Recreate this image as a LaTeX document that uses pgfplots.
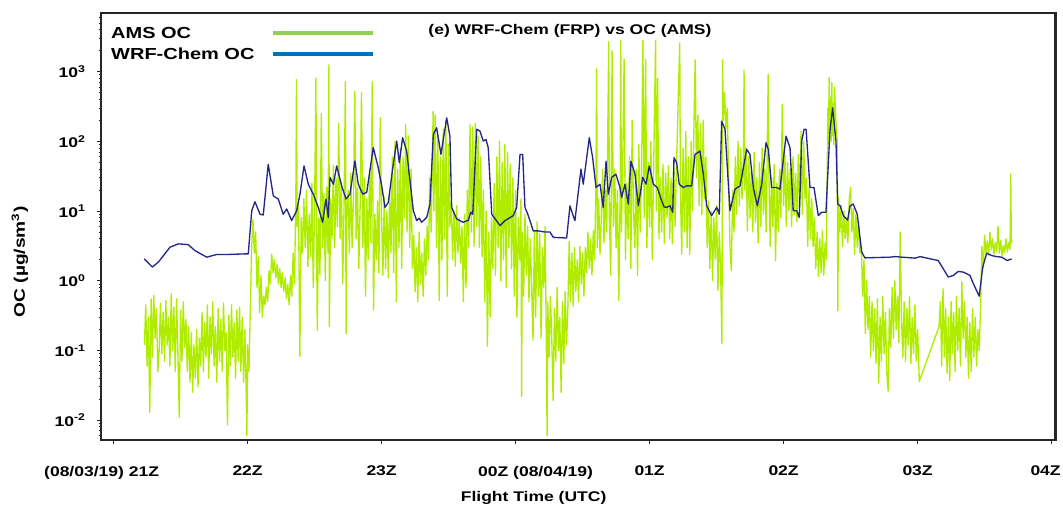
\documentclass[border=0pt]{standalone}
\usepackage{fontspec}
\setmainfont{Liberation Sans}[FakeStretch=1.25]
\usepackage{pgfplots}
\pgfplotsset{compat=1.18}
\definecolor{amsline}{RGB}{176,236,0}
\definecolor{wrfline}{RGB}{38,38,135}
\definecolor{leggreen}{RGB}{146,208,80}
\definecolor{legblue}{RGB}{0,112,192}
\begin{document}
\begin{tikzpicture}
\begin{axis}[
  at={(0pt,0pt)}, anchor=south west,
  scale only axis, width=716.25pt, height=320.25pt,
  xmin=-0.094, xmax=7.033,
  ymode=log, log basis y=10, ymin=0.00518, ymax=6960,
  axis lines=box, clip=false,
  xtick={0,1,2,3,4,5,6,7},
  xticklabels={{(08/03/19) 21Z\hspace*{18pt}},22Z,23Z,{\hspace*{30pt}00Z (08/04/19)},01Z,02Z,03Z,{\hspace*{-9pt}04Z}},
  ytick={0.01,0.1,1,10,100,1000},
  yticklabels={10\textsuperscript{-2},10\textsuperscript{-1},10\textsuperscript{0},10\textsuperscript{1},10\textsuperscript{2},10\textsuperscript{3}},
  minor ytick={0.006,0.007,0.008,0.009,0.02,0.03,0.04,0.05,0.06,0.07,0.08,0.09,0.2,0.3,0.4,0.5,0.6,0.7,0.8,0.9,2,3,4,5,6,7,8,9,20,30,40,50,60,70,80,90,200,300,400,500,600,700,800,900,2000,3000,4000,5000,6000},
  tick align=outside, xtick pos=left, ytick pos=left,
  major tick length=3pt, minor tick length=1.8pt,
  axis line style={black!85, line width=1.1pt},
  every tick/.style={black!85, line width=0.6pt},
  ticklabel style={font=\bfseries\fontsize{10.5}{12}\selectfont},
  xticklabel style={inner xsep=0pt},
  xticklabel shift=13pt,
  yticklabel shift=5pt,
  xlabel={\bfseries Flight Time (UTC)},
  xlabel style={font=\fontsize{10.5}{12}\selectfont, at={(rel axis cs:0.453,-0.136)}, anchor=center},
  ylabel={\bfseries OC (µg/sm\textsuperscript{3})},
  ylabel style={font=\fontsize{11.5}{13}\selectfont, at={(rel axis cs:-0.085,0.417)}, anchor=center},
  legend plot pos=right,
  legend image code/.code={\draw[#1] (0pt,0pt) -- (75pt,0pt);},
  legend style={at={(rel axis cs:0.009,0.973)}, anchor=north west, draw=none, fill=none,
    font=\bfseries\fontsize{12}{14}\selectfont, row sep=2.75pt, inner sep=0pt,
    nodes={inner sep=1pt, text height=9pt, text depth=2pt},
    cells={anchor=west},
    /tikz/every odd column/.append style={column sep=11pt}},
]
\addlegendimage{leggreen, line width=3pt}
\addlegendentry{AMS OC}
\addlegendimage{legblue, line width=3pt}
\addlegendentry{WRF-Chem OC}

\addplot[amsline, line width=1pt, line join=round, forget plot] coordinates {
(0.23,0.12) (0.24,0.45) (0.25,0.06) (0.26,0.30) (0.27,0.013) (0.28,0.55) (0.29,0.08) (0.30,0.62) (0.31,0.15) (0.32,0.40) (0.33,0.05) (0.34,0.10) (0.35,0.48) (0.36,0.09) (0.37,0.35) (0.38,0.07) (0.39,0.52) (0.40,0.12) (0.41,0.30) (0.42,0.06) (0.43,0.65) (0.44,0.10) (0.45,0.42) (0.46,0.05) (0.47,0.55) (0.48,0.09) (0.49,0.011) (0.50,0.38) (0.51,0.07) (0.52,0.50) (0.53,0.11) (0.54,0.28) (0.55,0.05) (0.56,0.22) (0.57,0.035) (0.58,0.18) (0.59,0.025) (0.60,0.12) (0.61,0.04) (0.62,0.20) (0.63,0.03) (0.64,0.15) (0.65,0.06) (0.66,0.35) (0.67,0.05) (0.68,0.25) (0.69,0.08) (0.70,0.45) (0.71,0.04) (0.72,0.30) (0.73,0.09) (0.74,0.50) (0.75,0.06) (0.76,0.22) (0.77,0.035) (0.78,0.40) (0.79,0.07) (0.80,0.28) (0.81,0.05) (0.82,0.48) (0.83,0.10) (0.84,0.18) (0.85,0.0085) (0.86,0.32) (0.87,0.06) (0.88,0.45) (0.89,0.08) (0.90,0.25) (0.91,0.04) (0.92,0.38) (0.93,0.07) (0.94,0.42) (0.95,0.05) (0.96,0.30) (0.97,0.035) (0.98,0.20) (0.99,0.022) (0.995,0.006) (1.00,0.12) (1.01,0.05) (1.02,0.35)
(1.03,3.0) (1.04,7.5) (1.05,2.5) (1.06,5.0) (1.07,0.8) (1.08,2.2) (1.09,0.35) (1.10,1.2) (1.11,0.3) (1.12,0.6) (1.13,0.45) (1.14,0.8) (1.15,0.5) (1.16,1.4) (1.17,0.9) (1.18,2.4) (1.19,1.3) (1.20,2.0) (1.21,1.1) (1.22,1.7) (1.23,0.9) (1.24,1.5) (1.25,0.8) (1.26,1.3) (1.27,0.7) (1.28,1.1) (1.29,0.55) (1.30,0.9) (1.31,0.45) (1.32,1.2) (1.33,0.6) (1.34,2.5) (1.35,0.9) (1.36,15) (1.365,770) (1.37,6) (1.38,12) (1.39,0.082) (1.40,8) (1.41,2.5) (1.42,15) (1.43,3) (1.44,20) (1.45,1.6) (1.46,9) (1.47,2.2) (1.48,25) (1.49,0.8) (1.50,12) (1.51,813) (1.515,4) (1.52,0.195) (1.53,8) (1.54,1.2) (1.55,250) (1.56,3) (1.57,18) (1.58,1.0) (1.59,22) (1.60,2.5) (1.607,1260) (1.61,0.22) (1.62,15) (1.63,4) (1.64,45) (1.65,3) (1.66,30) (1.67,6) (1.68,180) (1.69,4) (1.70,25) (1.71,0.9) (1.72,12) (1.73,720) (1.735,0.175) (1.74,8) (1.75,20) (1.76,2.5) (1.77,35) (1.78,3) (1.79,15) (1.80,525) (1.81,4) (1.82,22) (1.83,1.5) (1.84,12) (1.85,500) (1.86,3) (1.87,30) (1.88,0.6) (1.89,15) (1.90,2) (1.91,40) (1.92,3.5) (1.93,720) (1.94,0.38) (1.95,9) (1.96,2) (1.97,14) (1.98,1.3) (1.99,220)
(2.00,8) (2.01,1.2) (2.02,16) (2.03,1.5) (2.04,10) (2.05,1.1) (2.06,18) (2.07,2.5) (2.08,60) (2.09,1.3) (2.10,100) (2.11,0.5) (2.12,40) (2.13,3) (2.14,80) (2.15,1.5) (2.16,60) (2.17,8) (2.18,175) (2.19,5) (2.20,120) (2.21,3) (2.22,40) (2.23,1.5) (2.24,4.5) (2.25,0.7) (2.26,3) (2.27,0.5) (2.28,5) (2.29,0.9) (2.30,2.5) (2.31,0.6) (2.32,4) (2.33,1.2) (2.34,6) (2.35,2) (2.36,30) (2.37,5) (2.38,82) (2.385,270) (2.39,10) (2.40,240) (2.41,3) (2.42,120) (2.43,0.52) (2.44,60) (2.45,2) (2.46,150) (2.47,4) (2.48,200) (2.49,0.6) (2.50,90) (2.51,6) (2.52,14) (2.53,2) (2.54,10) (2.55,1.6) (2.56,12) (2.57,2.5) (2.58,8) (2.59,1.8) (2.60,6) (2.61,0.5) (2.62,9) (2.63,0.8) (2.64,20) (2.65,3) (2.66,175) (2.67,5) (2.68,160) (2.69,3.1) (2.70,180) (2.71,6) (2.72,120) (2.73,3) (2.74,60) (2.75,2.2) (2.76,20) (2.77,0.5) (2.78,10) (2.79,0.114) (2.80,5) (2.81,0.3) (2.82,8) (2.83,1.5) (2.84,25) (2.85,1.2) (2.86,60) (2.87,3) (2.88,100) (2.89,1.0) (2.90,50) (2.91,2) (2.92,90) (2.93,0.8) (2.94,70) (2.95,3) (2.96,47) (2.97,1.5) (2.98,30) (2.99,0.6)
(3.00,20) (3.01,0.3) (3.02,8) (3.03,2) (3.04,15) (3.045,0.022) (3.05,5) (3.06,0.6) (3.07,9) (3.08,1.2) (3.09,6) (3.10,0.5) (3.11,4) (3.12,0.8) (3.13,0.14) (3.14,5) (3.15,0.3) (3.16,7) (3.17,0.6) (3.18,4.7) (3.19,0.15) (3.20,3) (3.21,0.8) (3.22,6) (3.23,0.1) (3.235,0.0059) (3.24,0.5) (3.25,0.08) (3.26,0.6) (3.27,0.15) (3.28,0.019) (3.29,0.4) (3.30,0.07) (3.31,0.8) (3.32,0.1) (3.33,0.3) (3.34,0.025) (3.35,0.5) (3.36,0.065) (3.37,0.7) (3.38,0.12) (3.39,0.4) (3.40,3.7) (3.41,0.5) (3.42,2.5) (3.43,0.43) (3.44,3) (3.45,0.7) (3.46,2) (3.47,0.5) (3.48,3.1) (3.49,0.9) (3.50,2.5) (3.51,0.6) (3.52,3) (3.53,1.3) (3.54,5) (3.55,1.5) (3.56,4) (3.57,1.2) (3.58,5.2) (3.59,2) (3.60,30) (3.605,1100) (3.61,3) (3.62,15) (3.63,2.4) (3.64,8) (3.65,40) (3.66,3.5) (3.67,20) (3.68,5) (3.695,2700) (3.70,8) (3.71,1.2) (3.72,2000) (3.73,6) (3.74,40) (3.75,3) (3.76,20) (3.77,0.52) (3.78,15) (3.785,2800) (3.79,5) (3.80,60) (3.81,1500) (3.82,2) (3.83,25) (3.84,4) (3.85,60) (3.86,1.5) (3.87,200) (3.88,10) (3.89,3) (3.90,40) (3.91,1.2) (3.92,90) (3.93,5) (3.94,30) (3.95,2800) (3.96,8) (3.97,1500) (3.98,3) (3.99,50)
(4.00,6) (4.01,100) (4.02,2) (4.03,40) (4.045,2800) (4.05,10) (4.06,800) (4.07,4) (4.08,30) (4.09,5) (4.10,47) (4.11,3.4) (4.12,35) (4.13,8) (4.14,45) (4.15,4) (4.16,30) (4.17,3.4) (4.18,50) (4.19,6) (4.20,40) (4.225,2600) (4.23,20) (4.24,2.4) (4.25,80) (4.26,5) (4.27,140) (4.28,3) (4.29,60) (4.30,2.4) (4.31,100) (4.32,10) (4.34,1480) (4.35,30) (4.36,240) (4.37,12) (4.38,180) (4.39,9) (4.40,200) (4.41,15) (4.42,60) (4.43,3) (4.44,14) (4.45,1.5) (4.46,10) (4.47,1) (4.48,8) (4.49,2) (4.50,12) (4.51,0.73) (4.52,5) (4.53,1.5) (4.54,0.126) (4.545,1480) (4.55,200) (4.56,500) (4.57,150) (4.58,300) (4.59,27) (4.60,3) (4.61,1.4) (4.62,20) (4.63,5) (4.64,60) (4.65,9) (4.66,100) (4.67,12) (4.68,80) (4.69,15) (4.70,50) (4.705,1060) (4.71,20) (4.72,82) (4.73,5.2) (4.74,60) (4.75,8) (4.76,40) (4.77,5) (4.78,70) (4.79,7) (4.80,30) (4.81,3.5) (4.82,50) (4.83,6) (4.84,80) (4.85,9) (4.86,40) (4.87,5) (4.885,910) (4.89,40) (4.90,3.1) (4.91,30) (4.92,6) (4.93,47) (4.94,1.95) (4.95,25) (4.96,5) (4.97,40) (4.98,8) (4.99,340)
(5.00,12) (5.01,65) (5.02,6) (5.03,50) (5.04,10) (5.05,40) (5.06,6) (5.07,60) (5.08,9) (5.09,35) (5.10,7) (5.11,65) (5.12,12) (5.13,140) (5.14,9) (5.15,100) (5.16,15) (5.17,30) (5.18,3.1) (5.19,22) (5.20,4) (5.21,15) (5.22,3.1) (5.23,8) (5.24,1.5) (5.25,5) (5.26,1.14) (5.27,4) (5.28,1.3) (5.29,5.2) (5.30,1.2) (5.31,3.5) (5.32,2) (5.33,300) (5.335,90) (5.34,820) (5.345,150) (5.35,430) (5.355,100) (5.36,700) (5.365,120) (5.37,350) (5.375,90) (5.38,600) (5.39,200) (5.40,100) (5.405,0.37) (5.41,16) (5.42,5) (5.43,12) (5.44,3.1) (5.45,10) (5.46,4) (5.47,8) (5.48,3.5) (5.49,15) (5.50,22) (5.51,5) (5.52,11) (5.53,2.4) (5.54,9) (5.55,3) (5.56,7) (5.57,2.5) (5.58,3.1) (5.59,0.6) (5.60,2) (5.61,0.175) (5.62,1.0) (5.63,0.2) (5.64,0.6) (5.65,0.08) (5.66,0.5) (5.67,0.1) (5.68,0.4) (5.69,0.065) (5.70,0.55) (5.71,0.034) (5.72,0.3) (5.73,0.07) (5.74,0.6) (5.75,0.09) (5.76,0.35) (5.77,0.05) (5.78,0.026) (5.79,0.4) (5.80,0.11) (5.81,0.8) (5.82,0.15) (5.83,1.0) (5.84,0.2) (5.85,0.6) (5.86,0.13) (5.87,5.0) (5.88,0.3) (5.89,0.08) (5.90,0.5) (5.91,0.07) (5.92,0.4) (5.93,0.12) (5.94,0.6) (5.95,0.065) (5.96,0.3) (5.97,0.09) (5.98,0.45) (5.99,0.07)
(6.00,0.2) (6.013,0.036) (6.16,0.22) (6.17,0.5) (6.18,0.06) (6.19,0.77) (6.20,0.08) (6.21,0.4) (6.22,0.047) (6.23,0.3) (6.24,0.037) (6.25,0.5) (6.26,0.09) (6.27,0.35) (6.28,0.05) (6.29,0.6) (6.30,0.1) (6.31,0.4) (6.32,0.06) (6.33,0.97) (6.34,0.15) (6.35,0.5) (6.36,0.08) (6.37,0.3) (6.38,0.04) (6.39,0.25) (6.40,0.05) (6.41,0.4) (6.42,0.08) (6.43,0.3) (6.44,0.06) (6.45,0.2) (6.46,0.1) (6.47,0.4) (6.48,3.1) (6.49,1.5) (6.50,4.5) (6.51,2.5) (6.52,3.7) (6.53,2.3) (6.54,5) (6.55,2.8) (6.56,4) (6.57,2.4) (6.58,3.5) (6.59,2.6) (6.60,6.1) (6.61,2.5) (6.62,3.8) (6.63,2.3) (6.64,3.2) (6.65,2.5) (6.66,4) (6.67,2.6) (6.68,3.5) (6.69,2.8) (6.695,34) (6.70,3.5) (6.705,3.8)
};

\addplot[wrfline, line width=1pt, line join=round, forget plot] coordinates {
(0.229,2.06) (0.289,1.57) (0.334,1.85) (0.421,3.03) (0.483,3.38) (0.557,3.3) (0.607,2.71) (0.695,2.18) (0.769,2.38) (0.844,2.38) (0.981,2.43) (1.005,2.43) (1.031,10.1) (1.055,13.6) (1.093,9.0) (1.117,8.8) (1.154,46.9) (1.192,16.5) (1.229,14.9) (1.266,9.0) (1.292,10.7) (1.329,7.3) (1.366,10.1) (1.391,17.5) (1.421,44.4) (1.453,24.3) (1.490,17.5) (1.528,11.3) (1.560,6.9) (1.585,14.9) (1.602,8.1) (1.615,30.5) (1.640,24.3) (1.665,44.4) (1.702,23) (1.734,14.9) (1.764,17.5) (1.801,52.4) (1.826,24.3) (1.859,17.5) (1.889,18.5) (1.938,81.5) (1.975,42) (2.001,23) (2.025,11.3) (2.050,13.3) (2.087,46.9) (2.113,101) (2.132,49.5) (2.157,113) (2.187,72.6) (2.237,10.1) (2.262,7.3) (2.281,7.9) (2.299,6.9) (2.337,8.1) (2.361,12.6) (2.386,126) (2.411,157) (2.443,65) (2.486,218) (2.510,119) (2.523,11.3) (2.560,7.7) (2.610,6.9) (2.647,7.4) (2.665,9.6) (2.680,9.0) (2.710,149) (2.734,141) (2.759,101) (2.779,107) (2.796,81) (2.822,9.0) (2.884,6.2) (2.921,7.3) (2.983,8.6) (3.008,11.3) (3.033,65) (3.053,65) (3.070,11.3) (3.095,8.6) (3.132,5.2) (3.169,5.2) (3.219,5.0) (3.257,5.0) (3.281,4.2) (3.381,4.1) (3.406,11.9) (3.426,9.0) (3.443,7.3) (3.488,40) (3.505,24.3) (3.550,113) (3.575,58.5) (3.600,21.8) (3.630,24.3) (3.654,11.3) (3.675,52) (3.692,17.5) (3.717,30.5) (3.749,33.8) (3.779,21.8) (3.792,15.7) (3.816,24.3) (3.841,12.6) (3.861,52) (3.891,33.8) (3.916,11.9) (3.949,30.5) (3.973,24.3) (3.998,44.4) (4.028,24.3) (4.057,21.8) (4.085,15) (4.108,11.5) (4.128,11.3) (4.152,11.9) (4.173,9.6) (4.182,58.5) (4.202,49.5) (4.221,24.3) (4.251,21.8) (4.277,23) (4.314,23) (4.339,65) (4.376,72.6) (4.401,33.8) (4.426,11.9) (4.463,8.6) (4.501,11.3) (4.520,9.0) (4.538,195) (4.563,149) (4.600,10.1) (4.637,20.6) (4.675,23) (4.725,77) (4.749,65) (4.774,21.8) (4.804,11.9) (4.837,24.3) (4.869,96) (4.886,77) (4.911,21.8) (4.948,21.8) (4.973,20.6) (5.018,119) (5.048,81) (5.072,10.1) (5.098,10.1) (5.117,8.1) (5.135,101) (5.153,149) (5.168,149) (5.197,21.8) (5.227,21.8) (5.259,8.6) (5.284,9.6) (5.316,9.6) (5.346,141) (5.366,303) (5.391,101) (5.404,12.6) (5.422,11.9) (5.446,8.6) (5.478,7.4) (5.496,11.9) (5.520,12.6) (5.550,9.0) (5.583,2.57) (5.607,2.13) (5.794,2.18) (5.831,2.22) (5.981,2.11) (6.019,2.22) (6.154,1.95) (6.192,1.48) (6.229,1.13) (6.266,1.19) (6.304,1.36) (6.341,1.33) (6.391,1.19) (6.416,0.91) (6.460,0.60) (6.486,1.57) (6.516,2.49) (6.553,2.30) (6.590,2.22) (6.628,2.18) (6.669,1.95) (6.702,2.06)
};

\node[font=\bfseries\fontsize{10.5}{12}\selectfont] at (rel axis cs:0.491,0.958) {(e) WRF-Chem (FRP) vs OC (AMS)};
\end{axis}
\fill[black!85] (-0.55pt,319.2pt) rectangle (716.8pt,320.8pt);
\fill[black!85] (714.8pt,-0.55pt) rectangle (716.8pt,320.8pt);
\path (-75.75pt,-53.25pt) rectangle (721.5pt,330pt);
\end{tikzpicture}
\end{document}
